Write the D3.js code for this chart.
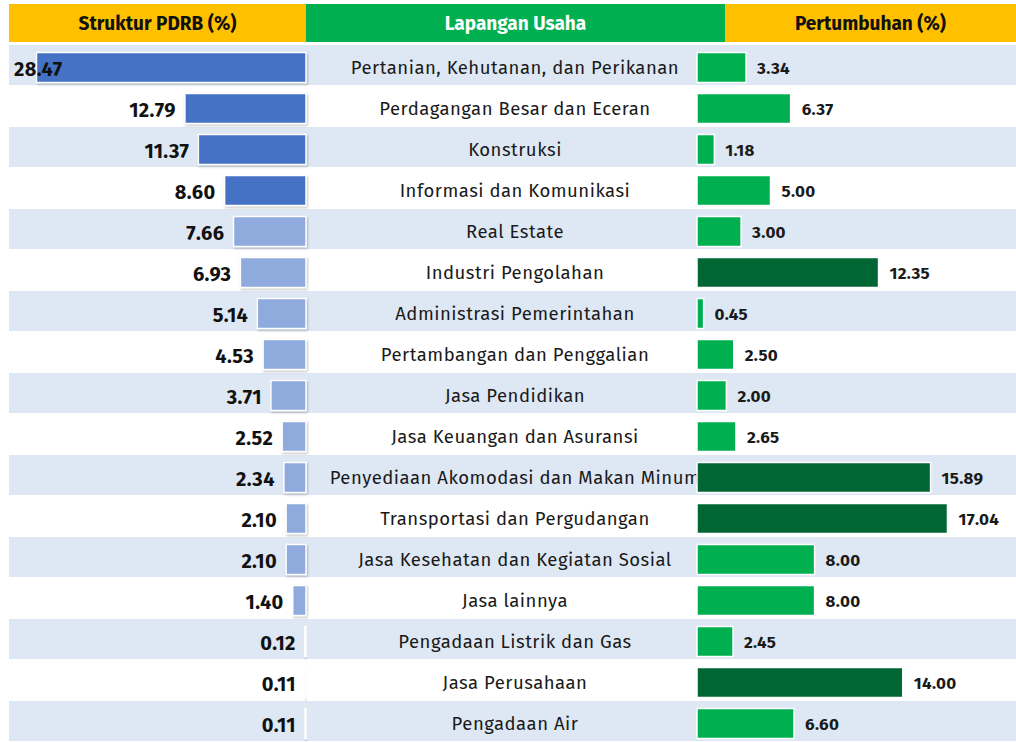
<!DOCTYPE html>
<html>
<head>
<meta charset="utf-8">
<script src="https://cdn.jsdelivr.net/npm/d3@7"></script>
<style>
  body { margin: 0; background: #fff; }
  svg { display: block; }
</style>
</head>
<body>
<svg></svg>
<script>
// data
var sectors = [
    "Pertanian, Kehutanan, dan Perikanan",
    "Perdagangan Besar dan Eceran",
    "Konstruksi",
    "Informasi dan Komunikasi",
    "Real Estate",
    "Industri Pengolahan",
    "Administrasi Pemerintahan",
    "Pertambangan dan Penggalian",
    "Jasa Pendidikan",
    "Jasa Keuangan dan Asuransi",
    "Penyediaan Akomodasi dan Makan Minum",
    "Transportasi dan Pergudangan",
    "Jasa Kesehatan dan Kegiatan Sosial",
    "Jasa lainnya",
    "Pengadaan Listrik dan Gas",
    "Jasa Perusahaan",
    "Pengadaan Air"
];
var struktur = [28.47, 12.79, 11.37, 8.60, 7.66, 6.93, 5.14, 4.53, 3.71, 2.52, 2.34, 2.10, 2.10, 1.40, 0.12, 0.11, 0.11];
var pertumbuhan = [3.34, 6.37, 1.18, 5.00, 3.00, 12.35, 0.45, 2.50, 2.00, 2.65, 15.89, 17.04, 8.00, 8.00, 2.45, 14.00, 6.60];
var headers = ["Struktur PDRB (%)", "Lapangan Usaha", "Pertumbuhan (%)"];

var width = 1016, height = 742;
var font = '"Fira Sans", "Noto Sans", "Open Sans", sans-serif';

var svg = d3.select("svg")
    .attr("width", width)
    .attr("height", height)
    .style("font-family", font);

var rows = sectors.map(function(s, i) {
    return { name: s, share: struktur[i], growth: pertumbuhan[i], idx: i };
});

var y = d3.scaleBand()
    .domain(sectors)
    .range([45, 742])
    .paddingInner(0);

var xLeft = d3.scaleLinear().domain([0, 30]).range([306, 22]);
var xRight = d3.scaleLinear().domain([0, 20]).range([697, 991]);

// soft shadow under the left bars
var defs = svg.append("defs");
var f = defs.append("filter").attr("id", "shadow")
    .attr("x", "-10%").attr("y", "-10%").attr("width", "130%").attr("height", "140%");
f.append("feDropShadow")
    .attr("dx", 1).attr("dy", 1.5).attr("stdDeviation", 1)
    .attr("flood-color", "#000").attr("flood-opacity", 0.25);

// header cells
var head = [
    { x0: 9, x1: 306, fill: "#ffc000", color: "#111" },
    { x0: 306, x1: 725, fill: "#00b050", color: "#fff" },
    { x0: 725, x1: 1016, fill: "#ffc000", color: "#111" }
];
svg.selectAll("rect.head")
    .data(head)
    .enter().append("rect")
    .attr("class", "head")
    .attr("x", d => d.x0)
    .attr("y", 4)
    .attr("width", d => d.x1 - d.x0)
    .attr("height", 38)
    .attr("fill", d => d.fill);
svg.selectAll("text.head")
    .data(head)
    .enter().append("text")
    .attr("class", "head")
    .attr("x", d => (d.x0 + d.x1) / 2)
    .attr("y", 23)
    .attr("dy", "0.35em")
    .attr("text-anchor", "middle")
    .attr("fill", d => d.color)
    .style("font-size", "19px")
    .style("font-weight", "bold")
    .text((d, i) => headers[i]);

// alternating row bands
svg.selectAll("rect.band")
    .data(rows)
    .enter().append("rect")
    .attr("class", "band")
    .attr("x", 9)
    .attr("y", d => y(d.name))
    .attr("width", width - 9)
    .attr("height", y.bandwidth() - 1)
    .attr("fill", d => d.idx % 2 === 0 ? "#dee8f4" : "#fff");

// sector names (drawn under the bars, as in the source)
svg.selectAll("text.sector")
    .data(rows)
    .enter().append("text")
    .attr("class", "sector")
    .attr("x", 515)
    .attr("y", d => y(d.name) + y.bandwidth() / 2 + 2)
    .attr("dy", "0.35em")
    .attr("text-anchor", "middle")
    .attr("fill", "#1a1a1a")
    .style("font-size", "18.5px")
    .style("letter-spacing", "0.5px")
    .text(d => d.name);

// left bars: struktur
var barH = 30;
svg.selectAll("rect.left")
    .data(rows)
    .enter().append("rect")
    .attr("class", "left")
    .attr("x", d => xLeft(d.share))
    .attr("y", d => y(d.name) + (y.bandwidth() - barH) / 2 + 2)
    .attr("width", d => xLeft(0) - xLeft(d.share))
    .attr("height", barH)
    .attr("fill", d => d.idx < 4 ? "#4472c4" : "#8faadc")
    .attr("stroke", "#fff")
    .attr("stroke-width", 1.5)
    .attr("filter", "url(#shadow)");

svg.selectAll("text.left")
    .data(rows)
    .enter().append("text")
    .attr("class", "left")
    .attr("x", d => d.idx === 0 ? 14 : xLeft(d.share) - 9)
    .attr("y", d => y(d.name) + y.bandwidth() / 2 + 3)
    .attr("dy", "0.35em")
    .attr("text-anchor", d => d.idx === 0 ? "start" : "end")
    .attr("fill", "#111")
    .style("font-size", "20px")
    .style("letter-spacing", "0.4px")
    .style("font-weight", "bold")
    .text(d => d.share.toFixed(2));

// right bars: pertumbuhan
svg.selectAll("rect.right")
    .data(rows)
    .enter().append("rect")
    .attr("class", "right")
    .attr("x", xRight(0))
    .attr("y", d => y(d.name) + (y.bandwidth() - barH) / 2 + 2)
    .attr("width", d => xRight(d.growth) - xRight(0))
    .attr("height", barH)
    .attr("fill", d => d.growth > 10 ? "#006633" : "#00b050")
    .attr("stroke", "#fff")
    .attr("stroke-width", 1.5);

svg.selectAll("text.right")
    .data(rows)
    .enter().append("text")
    .attr("class", "right")
    .attr("x", d => xRight(d.growth) + 11)
    .attr("y", d => y(d.name) + y.bandwidth() / 2 + 3)
    .attr("dy", "0.35em")
    .attr("fill", "#1a1a1a")
    .style("font-size", "17px")
    .style("letter-spacing", "0.3px")
    .style("font-weight", "bold")
    .text(d => d.growth.toFixed(2));
</script>
</body>
</html>
